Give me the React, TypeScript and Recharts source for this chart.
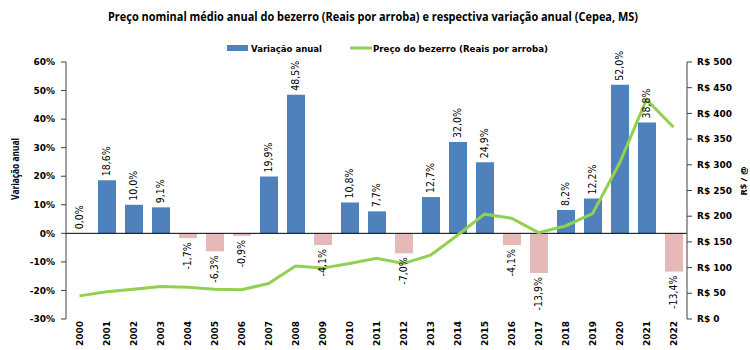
import React from 'react'
import {
  ComposedChart, Bar, Line, XAxis, YAxis, Cell, LabelList, ReferenceLine,
} from 'recharts'

const years = [
  '2000', '2001', '2002', '2003', '2004', '2005', '2006', '2007', '2008', '2009', '2010', '2011',
  '2012', '2013', '2014', '2015', '2016', '2017', '2018', '2019', '2020', '2021', '2022',
]
// variação anual (%)
const variation = [
  0, 18.6, 10.0, 9.1, -1.7, -6.3, -0.9, 19.9, 48.5, -4.1, 10.8, 7.7,
  -7.0, 12.7, 32.0, 24.9, -4.1, -13.9, 8.2, 12.2, 52.0, 38.8, -13.4,
]
// preço do bezerro (R$/@)
const price = [
  45, 53, 58, 63, 62, 58, 57, 69, 103, 99, 108, 118,
  108, 124, 163, 204, 196, 168, 181, 205, 303, 427, 373,
]
const leftTicks = [-30, -20, -10, 0, 10, 20, 30, 40, 50, 60]
const rightTicks = [0, 50, 100, 150, 200, 250, 300, 350, 400, 450, 500]

const data = years.map((year, i) => ({ year, variation: variation[i], price: price[i] }))

const BLUE = '#4F81BD'
const PINK = '#E6B9B8'
const GREEN = '#92D050'
const TICK_FONT = '"DejaVu Sans", Verdana, sans-serif'
const LABEL_FONT = '"Liberation Sans Narrow", "DejaVu Sans Condensed", Arial, sans-serif'
const TITLE_FONT = '"Open Sans", "Liberation Sans", Arial, sans-serif'

const fmtPct = (v: number) => `${v.toFixed(1).replace('.', ',')}%`

const YearTick = (props: any) => {
  const { x, y, payload } = props
  const ty = y - 6
  return (
    <text
      x={x}
      y={ty}
      transform={`rotate(-90, ${x}, ${ty})`}
      textAnchor="end"
      dominantBaseline="central"
      fontFamily={TICK_FONT}
      fontWeight="bold"
      fontSize={9}
      fill="#000"
    >
      {payload.value}
    </text>
  )
}

// label drawn at the bar end (point of an invisible line on the same axis)
const BarLabel = (props: any) => {
  const { x, y, value } = props
  if (x == null || y == null) return null
  const neg = value < 0
  const ty = neg ? y + 4 : y - 4
  return (
    <text
      x={x}
      y={ty}
      transform={`rotate(-90, ${x}, ${ty})`}
      textAnchor={neg ? 'end' : 'start'}
      dominantBaseline="central"
      fontFamily={LABEL_FONT}
      fontSize={10.5}
      fill="#000"
    >
      {fmtPct(value)}
    </text>
  )
}

export default function App() {
  return (
    <div style={{ position: 'absolute', left: 0, top: 0, width: 750, height: 350, background: '#fff' }}>
      <ComposedChart
        width={750}
        height={350}
        data={data}
        margin={{ top: 62, right: 0, bottom: 0, left: 0 }}
      >
        <XAxis
          dataKey="year"
          xAxisId="x"
          height={31}
          axisLine={false}
          tickLine={false}
          interval={0}
          tick={<YearTick />}
        />
        <YAxis
          yAxisId="left"
          width={66}
          domain={[-30, 60]}
          ticks={leftTicks}
          interval={0}
          tickFormatter={(v: number) => `${v}%`}
          tick={{ fontFamily: TICK_FONT, fontSize: 9, fontWeight: 'bold', fill: '#000' }}
          axisLine={{ stroke: '#404040' }}
          tickLine={{ stroke: '#404040' }}
          tickSize={5}
          tickMargin={6}
        />
        <YAxis
          yAxisId="right"
          orientation="right"
          width={63}
          domain={[0, 500]}
          ticks={rightTicks}
          interval={0}
          tickFormatter={(v: number) => `R$ ${v}`}
          tick={{ fontFamily: TICK_FONT, fontSize: 9, fontWeight: 'bold', fill: '#000', textAnchor: 'start' }}
          axisLine={{ stroke: '#404040' }}
          tickLine={{ stroke: '#404040' }}
          tickSize={5}
          tickMargin={5}
        />
        <ReferenceLine y={0} yAxisId="left" xAxisId="x" stroke="#000" strokeWidth={1} />
        <Bar
          dataKey="variation"
          xAxisId="x"
          yAxisId="left"
          barSize={18}
          fill={BLUE}
          isAnimationActive={false}
        >
          {data.map((d) => (
            <Cell key={d.year} fill={d.variation < 0 ? PINK : BLUE} />
          ))}
        </Bar>
        <Line
          dataKey="variation"
          xAxisId="x"
          yAxisId="left"
          stroke="none"
          dot={false}
          activeDot={false}
          legendType="none"
          isAnimationActive={false}
        >
          <LabelList dataKey="variation" content={<BarLabel />} />
        </Line>
        <Line
          dataKey="price"
          xAxisId="x"
          yAxisId="right"
          type="linear"
          stroke={GREEN}
          strokeWidth={3}
          dot={false}
          activeDot={false}
          isAnimationActive={false}
        />
      </ComposedChart>
      <svg
        width={750}
        height={350}
        style={{ position: 'absolute', left: 0, top: 0, pointerEvents: 'none' }}
      >
        <text
          x={108}
          y={21}
          textLength={530}
          lengthAdjust="spacingAndGlyphs"
          fontFamily={TITLE_FONT}
          fontWeight="bold"
          fontSize={12}
          fill="#000"
        >
          Preço nominal médio anual do bezerro (Reais por arroba) e respectiva variação anual  (Cepea, MS)
        </text>
        <rect x={227} y={45} width={21} height={6} fill={BLUE} />
        <text
          x={251}
          y={51.5}
          textLength={71}
          lengthAdjust="spacingAndGlyphs"
          fontFamily={TICK_FONT}
          fontWeight="bold"
          fontSize={9}
          fill="#000"
        >
          Variação anual
        </text>
        <line x1={350} y1={48} x2={372} y2={48} stroke={GREEN} strokeWidth={3} />
        <text
          x={373}
          y={51.5}
          textLength={175}
          lengthAdjust="spacingAndGlyphs"
          fontFamily={TICK_FONT}
          fontWeight="bold"
          fontSize={9}
          fill="#000"
        >
          Preço do bezerro (Reais por arroba)
        </text>
        <text
          x={15}
          y={169}
          transform="rotate(-90, 15, 169)"
          textAnchor="middle"
          dominantBaseline="central"
          textLength={62}
          lengthAdjust="spacingAndGlyphs"
          fontFamily={TITLE_FONT}
          fontWeight="bold"
          fontSize={10}
          fill="#000"
        >
          Variação anual
        </text>
        <text
          x={743}
          y={181}
          transform="rotate(-90, 743, 181)"
          textAnchor="middle"
          dominantBaseline="central"
          fontFamily={TITLE_FONT}
          fontWeight="bold"
          fontSize={9.5}
          fill="#000"
        >
          R$ / @
        </text>
      </svg>
    </div>
  )
}
